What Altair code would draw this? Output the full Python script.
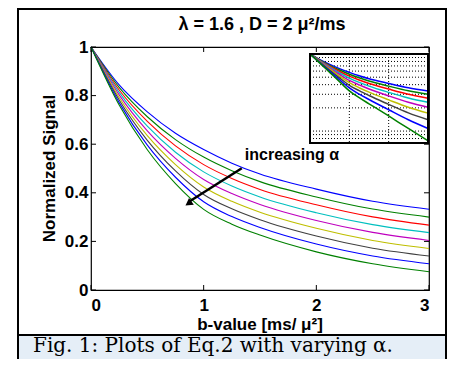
import altair as alt
import pandas as pd

# ---- data ----
b_values = [0, 0.25, 0.5, 0.75, 1.0, 1.25, 1.5, 2.0, 2.5, 3.0]
series_names = ["c1", "c2", "c3", "c4", "c5", "c6", "c7", "c8", "c9"]
series_colors = ["#0000FF", "#008000", "#FF0000", "#00BFBF", "#BF00BF",
                 "#BFBF00", "#404040", "#0000FF", "#008000"]
s1 = [1, 0.844, 0.733, 0.645, 0.578, 0.522, 0.477, 0.415, 0.365, 0.332]
s2 = [1, 0.834, 0.713, 0.619, 0.547, 0.491, 0.446, 0.383, 0.333, 0.300]
s3 = [1, 0.823, 0.694, 0.593, 0.516, 0.459, 0.414, 0.351, 0.301, 0.267]
s4 = [1, 0.813, 0.674, 0.567, 0.486, 0.428, 0.383, 0.318, 0.269, 0.236]
s5 = [1, 0.803, 0.655, 0.542, 0.455, 0.397, 0.352, 0.286, 0.237, 0.204]
s6 = [1, 0.792, 0.635, 0.516, 0.424, 0.365, 0.320, 0.254, 0.204, 0.171]
s7 = [1, 0.782, 0.616, 0.490, 0.393, 0.334, 0.289, 0.222, 0.172, 0.140]
s8 = [1, 0.771, 0.596, 0.464, 0.363, 0.302, 0.257, 0.189, 0.140, 0.108]
s9 = [1, 0.761, 0.577, 0.438, 0.332, 0.271, 0.226, 0.157, 0.108, 0.075]
all_series = [s1, s2, s3, s4, s5, s6, s7, s8, s9]

x_ticks = [0, 1, 2, 3]
y_ticks = [0, 0.2, 0.4, 0.6, 0.8, 1.0]
inset_x_grid = [1, 2]
inset_y_grid = [0.08, 0.09, 0.1, 0.2, 0.3, 0.4, 0.5, 0.6, 0.7, 0.8, 0.9]
arrow_start = [1.338, 0.501]
arrow_end = [0.88, 0.366]
arrow_tip = [0.865, 0.356]

title_text = "λ = 1.6 , D = 2 μ²/ms"
x_title = "b-value [ms/ μ²]"
y_title = "Normalized Signal"
annot_text = "increasing α"
caption_text = "Fig. 1: Plots of Eq.2 with varying α."

# ---- tables ----
rows = []
for name, vals in zip(series_names, all_series):
    for b, s in zip(b_values, vals):
        rows.append({"b": b, "S": s, "series": name})
df = pd.DataFrame(rows)

W, H = 338, 243
FONT = "Liberation Sans"
one = alt.Data(values=[{}])

xs = alt.Scale(domain=[0, 3], nice=False, zero=False)
ys = alt.Scale(domain=[0, 1], nice=False, zero=False)
ixs = alt.Scale(domain=[0, 3], range=[219, 337], nice=False, zero=False)
iys = alt.Scale(type="log", domain=[0.07, 1], range=[96, 7], nice=False)
color = alt.Color("series:N", scale=alt.Scale(domain=series_names, range=series_colors), legend=None)

# decorations: figure frame and caption band
band = alt.Chart(one).mark_rect(fill="#E5EEF7").encode(
    x=alt.value(-72), x2=alt.value(354), y=alt.value(288), y2=alt.value(330))
frame = alt.Chart(one).mark_rect(fill=None, stroke="black", strokeWidth=2).encode(
    x=alt.value(-73), x2=alt.value(355), y=alt.value(-38), y2=alt.value(340))
sep = alt.Chart(one).mark_rule(stroke="black", strokeWidth=2).encode(
    x=alt.value(-73), x2=alt.value(355), y=alt.value(288))

lines = alt.Chart(df).mark_line(strokeWidth=1.1, interpolate="monotone").encode(
    x=alt.X("b:Q", scale=xs, axis=alt.Axis(values=x_ticks, format="~g", ticks=False, domain=False,
                                          grid=False, labelPadding=7, title=None)),
    y=alt.Y("S:Q", scale=ys, axis=alt.Axis(values=y_ticks, format="~g", ticks=False, domain=False,
                                          grid=False, labelPadding=3, title=None)),
    color=color, detail="series:N")

xt = pd.DataFrame({"v": x_ticks})
yt = pd.DataFrame({"v": y_ticks})
xtick_b = alt.Chart(xt).mark_rule(color="black").encode(
    x=alt.X("v:Q", scale=xs, axis=None), y=alt.value(H), y2=alt.value(H - 5))
xtick_t = alt.Chart(xt).mark_rule(color="black").encode(
    x=alt.X("v:Q", scale=xs, axis=None), y=alt.value(0), y2=alt.value(5))
ytick_l = alt.Chart(yt).mark_rule(color="black").encode(
    y=alt.Y("v:Q", scale=ys, axis=None), x=alt.value(0), x2=alt.value(5))
ytick_r = alt.Chart(yt).mark_rule(color="black").encode(
    y=alt.Y("v:Q", scale=ys, axis=None), x=alt.value(W), x2=alt.value(W - 5))

# arrow + annotation
arr_df = pd.DataFrame({"x": [arrow_start[0]], "y": [arrow_start[1]],
                       "x2": [arrow_end[0]], "y2": [arrow_end[1]]})
arrow_line = alt.Chart(arr_df).mark_rule(color="black", strokeWidth=2.5).encode(
    x=alt.X("x:Q", scale=xs, axis=None), y=alt.Y("y:Q", scale=ys, axis=None),
    x2="x2:Q", y2="y2:Q")
head_df = pd.DataFrame({"x": [arrow_tip[0]], "y": [arrow_tip[1]]})
arrow_head = alt.Chart(head_df).mark_point(shape="triangle-up", filled=True, color="black",
                                           size=70, angle=235, opacity=1).encode(
    x=alt.X("x:Q", scale=xs, axis=None), y=alt.Y("y:Q", scale=ys, axis=None))
annot_df = pd.DataFrame({"x": [1.365], "y": [0.555], "t": [annot_text]})
annot = alt.Chart(annot_df).mark_text(align="left", baseline="middle", font=FONT, fontSize=16,
                                      fontWeight="bold", color="black").encode(
    x=alt.X("x:Q", scale=xs, axis=None), y=alt.Y("y:Q", scale=ys, axis=None), text="t:N")

# inset (same data on a log-y axis)
inset_bg = alt.Chart(one).mark_rect(fill="white").encode(
    x=alt.value(219), x2=alt.value(337), y=alt.value(7), y2=alt.value(96))
igx = alt.Chart(pd.DataFrame({"v": inset_x_grid})).mark_rule(
    color="black", strokeDash=[1, 2], strokeWidth=1).encode(
    x=alt.X("v:Q", scale=ixs, axis=None), y=alt.value(7), y2=alt.value(96))
igy = alt.Chart(pd.DataFrame({"v": inset_y_grid})).mark_rule(
    color="black", strokeDash=[1, 2], strokeWidth=1).encode(
    y=alt.Y("v:Q", scale=iys, axis=None), x=alt.value(219), x2=alt.value(337))
ilines = alt.Chart(df).mark_line(strokeWidth=1.5, interpolate="monotone").encode(
    x=alt.X("b:Q", scale=ixs, axis=None), y=alt.Y("S:Q", scale=iys, axis=None),
    color=color, detail="series:N")
inset_border = alt.Chart(one).mark_rect(fill=None, stroke="black", strokeWidth=2).encode(
    x=alt.value(219), x2=alt.value(337), y=alt.value(7), y2=alt.value(96))

# texts
def txt(t, x, y, size=17, angle=0, font=FONT, weight="bold", align="center", baseline="middle"):
    return alt.Chart(one).mark_text(text=t, font=font, fontSize=size, fontWeight=weight,
                                    angle=angle, align=align, baseline=baseline,
                                    color="black").encode(x=alt.value(x), y=alt.value(y))

title = txt(title_text, W / 2 + 2, -22, size=18)
xlab = txt(x_title, W / 2, 278)
ylab = txt(y_title, -41, H / 2, angle=270)
caption = txt(caption_text, -58, 305, size=20, font="DejaVu Serif", weight="normal",
              align="left", baseline="alphabetic")

chart = alt.layer(
    band, frame, sep,
    lines, xtick_b, xtick_t, ytick_l, ytick_r,
    arrow_line, arrow_head, annot,
    inset_bg, igx, igy, ilines, inset_border,
    title, xlab, ylab, caption,
).resolve_scale(x="independent", y="independent").properties(
    width=W, height=H,
    autosize=alt.AutoSizeParams(type="none"),
    padding={"left": 83, "top": 39, "right": 18, "bottom": 69},
    background="white",
).configure_view(stroke="black", strokeWidth=1.2).configure_axis(
    labelFont=FONT, labelFontSize=17, labelFontWeight="bold", labelColor="black")

chart.save("out.html", embed_options={"renderer": "svg", "actions": False})
